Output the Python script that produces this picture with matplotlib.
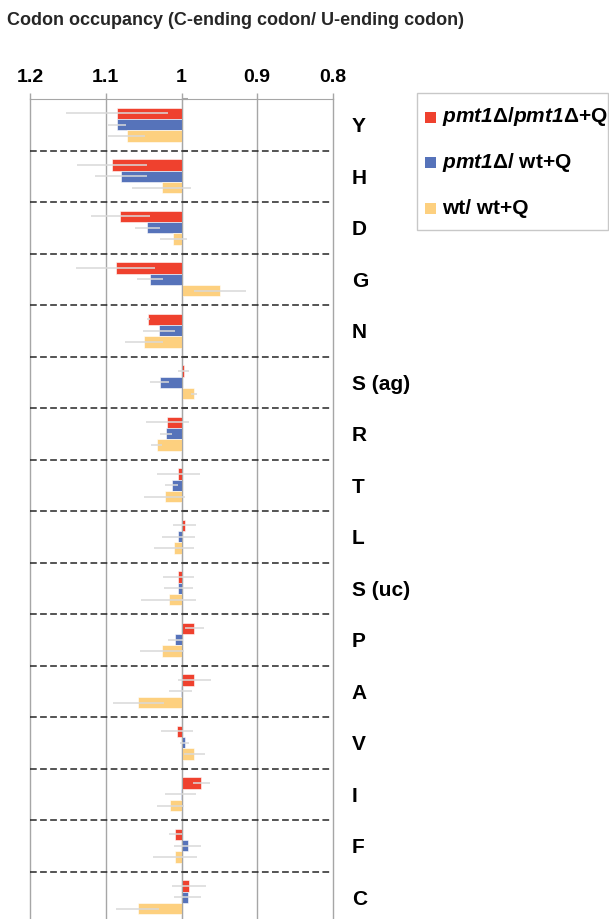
import numpy as np
import matplotlib
matplotlib.use("Agg")
import matplotlib.pyplot as plt
from matplotlib.patches import Rectangle

# every text in this figure is bold
plt.rcParams['font.family'] = ['Liberation Sans', 'DejaVu Sans']
plt.rcParams['font.weight'] = 'bold'
plt.rcParams['mathtext.fontset'] = 'custom'
plt.rcParams['mathtext.sf'] = 'Liberation Sans:italic:bold'
plt.rcParams['mathtext.rm'] = 'Liberation Sans:bold'
plt.rcParams['mathtext.bf'] = 'Liberation Sans:bold'

# data (C-ending / U-ending codon occupancy ratios)
codons = ["Y", "H", "D", "G", "N", "S (ag)", "R", "T", "L", "S (uc)",
          "P", "A", "V", "I", "F", "C"]
pmt_pmt = [1.085, 1.092, 1.081, 1.087, 1.044, 0.997, 1.0185, 1.004, 0.996, 1.004,
           0.983, 0.983, 1.006, 0.974, 1.008, 0.990]
pmt_pmt_err = [0.067, 0.046, 0.039, 0.052, 0.002, 0.007, 0.028, 0.029, 0.015, 0.021,
               0.013, 0.022, 0.0215, 0.011, 0.009, 0.023]
pmt_wt = [1.085, 1.080, 1.045, 1.042, 1.0295, 1.029, 1.021, 1.013, 1.004, 1.004,
          1.008, 1.001, 0.996, 1.0013, 0.992, 0.992]
pmt_wt_err = [0.012, 0.034, 0.017, 0.017, 0.021, 0.012, 0.008, 0.009, 0.022, 0.019,
              0.010, 0.015, 0.006, 0.021, 0.018, 0.018]
wt_wt = [1.0725, 1.026, 1.011, 0.949, 1.049, 0.983, 1.033, 1.022, 1.010, 1.017,
         1.026, 1.057, 0.983, 1.015, 1.008, 1.058]
wt_wt_err = [0.024, 0.039, 0.018, 0.0345, 0.025, 0.004, 0.0075, 0.027, 0.026, 0.036,
             0.029, 0.034, 0.014, 0.018, 0.029, 0.028]
x_ticks = [1.2, 1.1, 1.0, 0.9, 0.8]
x_tick_labels = ["1.2", "1.1", "1", "0.9", "0.8"]

legend_labels = [r"$\mathsf{pmt1}$Δ/$\mathsf{pmt1}$Δ+Q",
                 r"$\mathsf{pmt1}$Δ/ wt+Q",
                 "wt/ wt+Q"]
colors = ["#EF412E", "#5673BA", "#FDD07F"]
grid_col = "#A6A6A6"

W, H = 609, 919
fig = plt.figure(figsize=(W / 100, H / 100), dpi=100)
ax = fig.add_axes([30 / W, -4 / H, 303 / W, 824 / H])

n = len(codons)
y = np.arange(n) + 0.5
bh = 0.22
series = [(pmt_pmt, pmt_pmt_err), (pmt_wt, pmt_wt_err), (wt_wt, wt_wt_err)]
for i, (vals, errs) in enumerate(series):
    yy = y + (i - 1) * bh
    vals = np.array(vals)
    ax.barh(yy, vals - 1, left=1, height=bh, color=colors[i],
            edgecolor="white", linewidth=0.4, zorder=2)
    ax.errorbar(vals, yy, xerr=errs, fmt="none", ecolor="#D9D9D9",
                elinewidth=1.1, capsize=0, zorder=3)

# dashed separators between codons
ax.hlines(np.arange(1, n + 1), 1.2, 0.804, colors="#262626", linewidth=1.1,
          linestyles=(0, (4.4, 2.2)), zorder=4)

ax.set_xlim(1.2, 0.8)
ax.set_ylim(n, 0)

ax.xaxis.tick_top()
ax.set_xticks(x_ticks, labels=x_tick_labels)
ax.tick_params(axis="x", which="major", direction="out", length=4.5, width=1,
               color=grid_col, labelsize=14, pad=5)
ax.grid(axis="x", color=grid_col, linewidth=1, zorder=0)
for gl in ax.get_xgridlines():
    gl.set_clip_on(False)
ax.set_axisbelow(True)

ax.set_yticks(y, labels=codons)
ax.tick_params(axis="y", which="major", left=False, right=False,
               labelleft=False, labelright=True, labelsize=15, pad=10)
ax.set_yticks(np.arange(n + 1), minor=True)
ax.tick_params(axis="y", which="minor", left=True, right=False,
               direction="in", length=4, width=1.5, color=grid_col)

ax.spines["left"].set_position(("data", 1.0))
ax.spines["left"].set_color(grid_col)
ax.spines["top"].set_color(grid_col)
ax.spines["right"].set_visible(False)
ax.spines["bottom"].set_visible(False)

fig.text(7 / W, 1 - 25 / H, "Codon occupancy (C-ending codon/ U-ending codon)",
         fontsize=13, color="#262626", va="baseline")

# legend box drawn by hand
fig.patches.append(Rectangle((417 / W, 1 - 230 / H), 191 / W, 137 / H,
                             transform=fig.transFigure, facecolor="white",
                             edgecolor="#C8C8C8", linewidth=1))
for i, lab in enumerate(legend_labels):
    cy = 117 + i * 45.5
    fig.patches.append(Rectangle((425 / W, 1 - (cy + 5.5) / H), 11 / W, 11 / H,
                                 transform=fig.transFigure, facecolor=colors[i],
                                 edgecolor="none"))
    fig.text(442 / W, 1 - cy / H, lab, fontsize=15, va="center", ha="left")

fig.savefig("out.png", dpi=100)
